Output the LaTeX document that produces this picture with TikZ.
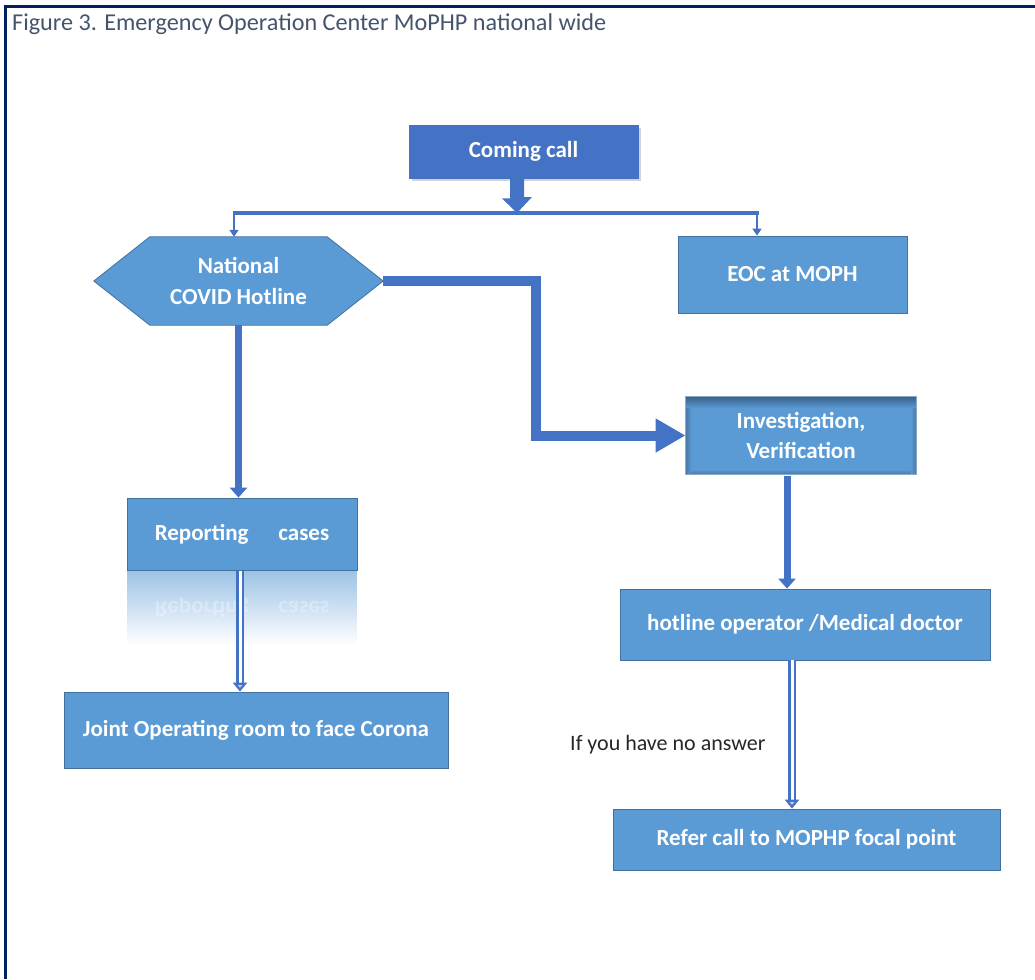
\documentclass[tikz,border=0pt]{standalone}
\usepackage{fontspec}
\setmainfont{Carlito}
\usetikzlibrary{arrows.meta,shadows,fadings,calc}
\definecolor{frame}{HTML}{002060}
\definecolor{capgrey}{HTML}{44546A}
\definecolor{boxblue}{HTML}{5B9BD5}
\definecolor{boxedge}{HTML}{41719C}
\definecolor{darkblue}{HTML}{4472C4}
\definecolor{arrowblue}{HTML}{4472C4}
\definecolor{shadeblue}{HTML}{3A6189}
\tikzset{
  box/.style={rectangle, fill=boxblue, draw=boxedge, line width=0.8pt,
    text=white, font=\fontsize{23}{27}\selectfont\bfseries, align=center, inner sep=0pt},
  conn/.style={draw=arrowblue, line width=#1},
  dbl/.style={draw=arrowblue, line width=2.2pt, double=white, double distance=3pt},
}
\begin{document}
\begin{tikzpicture}[x=1pt,y=-1pt]
\useasboundingbox (0,0) rectangle (1035,979);
% frame
\draw[frame, line width=3pt] (5,979) -- (5,7) -- (1035,7);
\node[anchor=west, text=capgrey, font=\fontsize{24.2}{28}\selectfont, inner sep=0pt] (cap) at (12,24) {Figure 3. Emergency Operation Center MoPHP national wide};

% nodes
\node[box, fill=darkblue, draw=darkblue, minimum width=229pt, minimum height=53pt,
  drop shadow={shadow xshift=3pt, shadow yshift=-3pt, opacity=0.35}] (call) at (523.5,151.5) {Coming call};
\node[minimum width=289pt, minimum height=88pt, inner sep=0pt] (hex) at (238.5,281) {};
\fill[boxblue, draw=boxedge, line width=0.8pt]
  (hex.west) -- ($(hex.north west)+(56,0)$) -- ($(hex.north east)+(-56,0)$) -- (hex.east)
  -- ($(hex.south east)+(-56,0)$) -- ($(hex.south west)+(56,0)$) -- cycle;
\node[text=white, font=\fontsize{23}{31}\selectfont\bfseries, align=center] (hextext) at (hex.center) {National\\COVID Hotline};
\node[box, minimum width=229pt, minimum height=77pt] (eoc) at (792.5,274.5) {EOC at MOPH};
\node[box, minimum width=230pt, minimum height=77pt] (inv) at (801,435.5) {};
\shade[top color=shadeblue, bottom color=boxblue] (inv.north west) rectangle ($(inv.north east)+(0,12)$);
\shade[left color=shadeblue!60!boxblue, right color=boxblue] ($(inv.north west)+(0,12)$) rectangle ($(inv.south west)+(6,0)$);
\shade[right color=shadeblue!60!boxblue, left color=boxblue] ($(inv.north east)+(-6,12)$) rectangle (inv.south east);
\shade[bottom color=shadeblue!60!boxblue, top color=boxblue] ($(inv.south west)+(6,-5)$) rectangle ($(inv.south east)+(-6,0)$);
\draw[boxedge!60!white, line width=0.8pt] (inv.north west) rectangle (inv.south east);
\node[text=white, font=\fontsize{23}{30}\selectfont\bfseries, align=center] (invtext) at (inv.center) {Investigation,\\Verification};
% reflection
\fill[boxblue, fill opacity=0.6, path fading=south] (127,571) rectangle (357,645);
\node[text=white, opacity=0.3, yscale=-1, font=\fontsize{23}{27}\selectfont\bfseries] (refl) at (242,608) {Reporting\hspace{1.3em}cases};
\node[box, minimum width=230pt, minimum height=72pt] (rep) at (242,534) {Reporting\hspace{1.3em}cases};
\node[box, minimum width=384pt, minimum height=76pt] (joint) at (256,730) {Joint Operating room to face Corona};
\node[box, minimum width=370pt, minimum height=71pt] (hot) at (805,624.5) {hotline operator /Medical doctor};
\node[box, minimum width=387pt, minimum height=61pt] (refer) at (806.5,839.5) {Refer call to MOPHP focal point};
\node[anchor=west, text=black!85, font=\fontsize{22}{26}\selectfont, inner sep=0pt] (noans) at (570,745) {If you have no answer};

% fat arrow from Coming call
\coordinate (bar) at (517,213);
\fill[arrowblue] ($(call.south)+(-13.5,0)$) -- ++(0,20) -- ++(-8,0) -- (bar) -- ++(15,-16) -- ++(-8,0) -- ++(0,-20) -- cycle;
% distribution bar
\coordinate (barL) at (234,213);
\coordinate (barR) at (757,213);
\draw[conn=3.5pt] ($(barL)+(-1.5,0)$) -- ($(barR)+(1.5,0)$);
\draw[conn=2.5pt, -{Triangle[width=9pt,length=7pt]}] (barL) -- (barL |- hex.north);
\draw[conn=2.5pt, -{Triangle[width=9pt,length=7pt]}] (barR) -- (barR |- eoc.north);
% hex -> investigation
\draw[conn=10pt, -{Triangle[width=32pt,length=30pt]}] (hex.east) -- (536,281) |- (inv.west);
% hex -> reporting
\draw[conn=7pt, -{Triangle[width=17pt,length=10pt]}] (hex.south) -- (hex.south |- rep.north);
% inv -> hotline
\coordinate (invout) at ($(inv.south)+(-14,2)$);
\draw[conn=7pt, -{Triangle[width=17pt,length=10pt]}] (invout) -- (invout |- hot.north);
% reporting -> joint (double)
\coordinate (repout) at ($(rep.south)+(-2,1)$);
\draw[dbl, -{Triangle[width=14pt,length=9pt, fill=arrowblue!35]}] (repout) -- (repout |- joint.north);
% hotline -> refer (double)
\coordinate (hotout) at ($(hot.south)+(-13,0)$);
\draw[dbl, -{Triangle[width=14pt,length=9pt, fill=arrowblue!35]}] (hotout) -- (hotout |- refer.north);
\end{tikzpicture}
\end{document}
